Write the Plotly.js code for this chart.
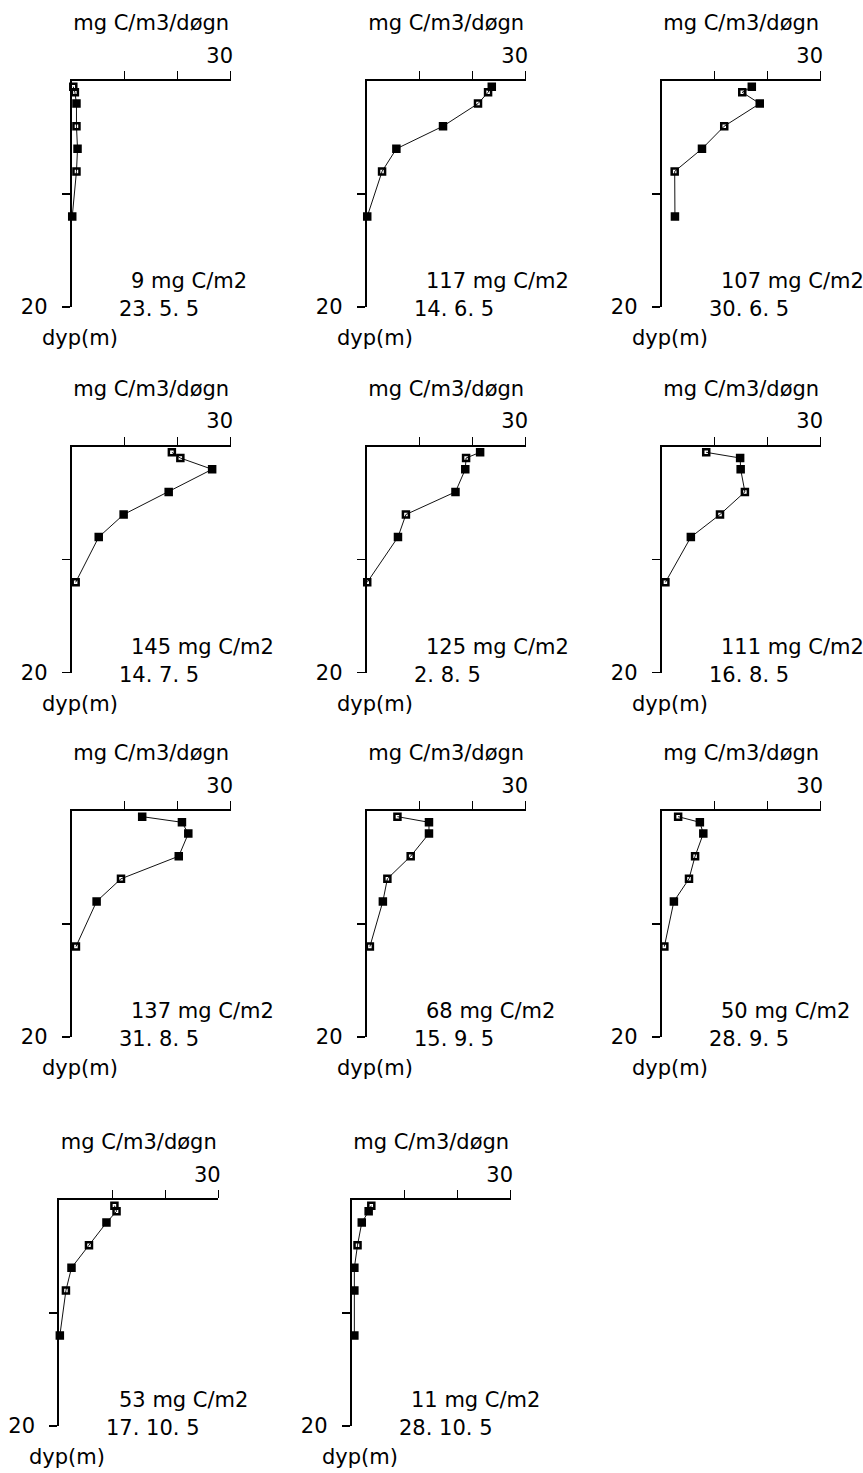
<!DOCTYPE html>
<html><head><meta charset="utf-8">
<script src="https://cdn.plot.ly/plotly-3.0.1.min.js"></script>
<style>body{margin:0;background:#fff}</style></head><body>
<div id="chart" style="width:863px;height:1473px"></div>
<script>
// Depths (m) sampled in every profile
const depths = [0.5, 1, 2, 4, 6, 8, 12];
// Sampling dates and integrated production
const dates = ["23. 5. 5","14. 6. 5","30. 6. 5","14. 7. 5","2. 8. 5","16. 8. 5","31. 8. 5","15. 9. 5","28. 9. 5","17. 10. 5","28. 10. 5"];
const totals = [9, 117, 107, 145, 125, 111, 137, 68, 50, 53, 11];
// Production (mg C/m3/døgn) per depth, one array per date
const prod_23_5  = [0.3, 0.6, 0.9, 0.9, 1.1, 0.9, 0.1];
const prod_14_6  = [23.6, 22.9, 21.0, 14.4, 5.6, 2.9, 0.1];
const prod_30_6  = [17.0, 15.2, 18.5, 11.8, 7.6, 2.45, 2.5];
const prod_14_7  = [18.9, 20.5, 26.5, 18.3, 9.8, 5.1, 0.75];
const prod_2_8   = [21.4, 18.75, 18.6, 16.75, 7.4, 5.9, 0.1];
const prod_16_8  = [8.4, 14.8, 14.9, 15.7, 11.0, 5.5, 0.7];
const prod_31_8  = [13.3, 20.8, 22.0, 20.2, 9.3, 4.7, 0.8];
const prod_15_9  = [5.8, 11.75, 11.75, 8.3, 3.9, 3.05, 0.6];
const prod_28_9  = [3.1, 7.2, 7.85, 6.3, 5.15, 2.3, 0.5];
const prod_17_10 = [10.4, 10.8, 8.9, 5.6, 2.3, 1.25, 0.1];
const prod_28_10 = [3.7, 3.2, 1.9, 1.1, 0.5, 0.5, 0.5];
const profiles = [prod_23_5, prod_14_6, prod_30_6, prod_14_7, prod_2_8, prod_16_8, prod_31_8, prod_15_9, prod_28_9, prod_17_10, prod_28_10];
// tick labels
const xTickVals = [10, 20, 30];
const xTickText = ["", "", "30"];
const yTickVals = [10, 20];
const yTickText = ["", "20"];

// Style: which markers are drawn hollow (1) vs filled (0)
const hollowStyle = [
  [1,1,0,1,0,1,0],[0,1,1,0,0,1,0],[0,1,0,1,0,1,0],
  [1,1,0,0,0,0,1],[0,1,0,0,1,0,1],[1,0,0,1,1,0,1],
  [0,0,0,0,1,0,1],[1,0,0,1,1,0,1],[1,0,0,1,1,0,1],
  [1,1,0,1,0,1,0],[1,0,0,1,0,0,0]
];

const W = 863, H = 1473;
const rowTops = [81, 446.7, 811, 1200];
const colX = [[71.7, 366.7, 661.7],[71.7, 366.7, 661.7],[71.7, 366.7, 661.7],[59.3, 351.7]];
const PW = 159, PH = 226;
const FONT = {family: "DejaVu Sans", size: 21, color: "#000"};

const data = [];
const layout = {
  width: W, height: H, margin: {l:0, r:0, t:0, b:0},
  paper_bgcolor: "#fff", plot_bgcolor: "#fff", showlegend: false,
  font: FONT, annotations: []
};

let k = 0;
rowTops.forEach((top, r) => {
  colX[r].forEach(ox => {
    const n = k + 1;
    const sfx = n === 1 ? "" : String(n);
    data.push({
      type: "scatter", mode: "lines+markers",
      x: profiles[k], y: depths,
      xaxis: "x" + sfx, yaxis: "y" + sfx,
      cliponaxis: false,
      line: {color: "#111", width: 1},
      marker: {
        color: "#000", size: 6,
        symbol: hollowStyle[k].map(h => h ? "square-open" : "square"),
        line: {color: "#000", width: 2.5}
      },
      hoverinfo: "x+y"
    });
    const dom = [ox / W, (ox + PW) / W];
    const ydom = [1 - (top + PH) / H, 1 - top / H];
    layout["xaxis" + sfx] = {
      domain: dom, anchor: "y" + sfx, side: "top",
      range: [0, 30], fixedrange: true,
      showgrid: false, zeroline: false,
      showline: true, linecolor: "#000", linewidth: 2,
      ticks: "outside", ticklen: 8, tickwidth: 1.5, tickcolor: "#000",
      tickvals: xTickVals, ticktext: xTickText,
      ticklabelshift: -11, ticklabelstandoff: 0,
      tickfont: FONT,
      title: {text: "mg C/m3/døgn", font: FONT, standoff: 7},
      automargin: false
    };
    layout["yaxis" + sfx] = {
      domain: ydom, anchor: "x" + sfx,
      range: [20, 0], fixedrange: true,
      showgrid: false, zeroline: false,
      showline: true, linecolor: "#000", linewidth: 2,
      ticks: "outside", ticklen: 8, tickwidth: 1.5, tickcolor: "#000",
      tickvals: yTickVals, ticktext: yTickText,
      ticklabelstandoff: 10,
      tickfont: FONT,
      automargin: false
    };
    layout.annotations.push(
      {xref: "x" + sfx + " domain", yref: "y" + sfx + " domain", x: 0.36, y: 0,
       xanchor: "left", yanchor: "middle", yshift: 26, showarrow: false,
       text: totals[k] + " mg C/m2", font: FONT},
      {xref: "x" + sfx + " domain", yref: "y" + sfx + " domain", x: 0.283, y: 0,
       xanchor: "left", yanchor: "middle", yshift: -2, showarrow: false,
       text: dates[k], font: FONT},
      {xref: "x" + sfx + " domain", yref: "y" + sfx + " domain", x: 0, y: 0,
       xanchor: "center", yanchor: "middle", xshift: 8, yshift: -31, showarrow: false,
       text: "dyp(m)", font: FONT}
    );
    k++;
  });
});

Plotly.newPlot("chart", data, layout, {staticPlot: true, displayModeBar: false});
</script>
</body></html>
